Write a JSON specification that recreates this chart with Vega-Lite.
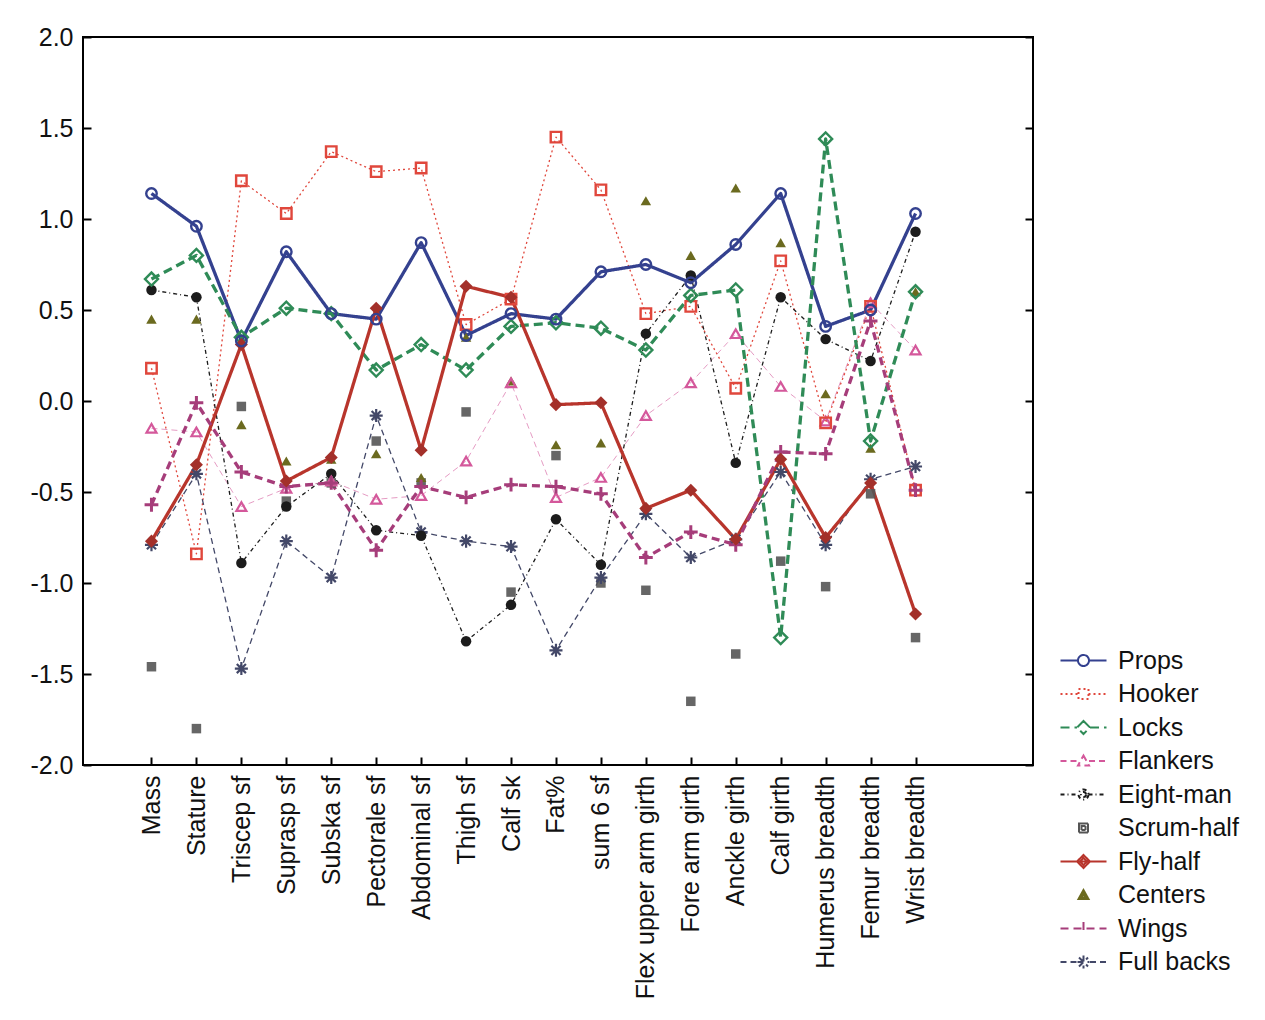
{
  "$schema": "https://vega.github.io/schema/vega-lite/v6.json",
  "width": 950,
  "height": 728,
  "autosize": {"type": "none"},
  "padding": {"left": 83, "top": 37, "right": 232, "bottom": 255},
  "background": "#ffffff",
  "config": {
    "view": {"stroke": "#000000", "strokeWidth": 2},
    "font": "Liberation Sans"
  },
  "data": {
    "values": [
      {"m": "Mass", "i": 1, "Props": 1.14, "Hooker": 0.18, "Locks": 0.67, "Flankers": -0.15, "Eight-man": 0.61, "Scrum-half": -1.46, "Fly-half": -0.77, "Centers": 0.45, "Wings": -0.57, "Full backs": -0.79},
      {"m": "Stature", "i": 2, "Props": 0.96, "Hooker": -0.84, "Locks": 0.80, "Flankers": -0.17, "Eight-man": 0.57, "Scrum-half": -1.80, "Fly-half": -0.35, "Centers": 0.45, "Wings": -0.01, "Full backs": -0.40},
      {"m": "Triscep sf", "i": 3, "Props": 0.33, "Hooker": 1.21, "Locks": 0.35, "Flankers": -0.58, "Eight-man": -0.89, "Scrum-half": -0.03, "Fly-half": 0.31, "Centers": -0.13, "Wings": -0.39, "Full backs": -1.47},
      {"m": "Suprasp sf", "i": 4, "Props": 0.82, "Hooker": 1.03, "Locks": 0.51, "Flankers": -0.48, "Eight-man": -0.58, "Scrum-half": -0.55, "Fly-half": -0.44, "Centers": -0.33, "Wings": -0.47, "Full backs": -0.77},
      {"m": "Subska sf", "i": 5, "Props": 0.48, "Hooker": 1.37, "Locks": 0.48, "Flankers": -0.44, "Eight-man": -0.40, "Scrum-half": -0.45, "Fly-half": -0.31, "Centers": -0.32, "Wings": -0.45, "Full backs": -0.97},
      {"m": "Pectorale sf", "i": 6, "Props": 0.45, "Hooker": 1.26, "Locks": 0.17, "Flankers": -0.54, "Eight-man": -0.71, "Scrum-half": -0.22, "Fly-half": 0.51, "Centers": -0.29, "Wings": -0.82, "Full backs": -0.08},
      {"m": "Abdominal sf", "i": 7, "Props": 0.87, "Hooker": 1.28, "Locks": 0.31, "Flankers": -0.52, "Eight-man": -0.74, "Scrum-half": -0.45, "Fly-half": -0.27, "Centers": -0.42, "Wings": -0.47, "Full backs": -0.72},
      {"m": "Thigh sf", "i": 8, "Props": 0.36, "Hooker": 0.42, "Locks": 0.17, "Flankers": -0.33, "Eight-man": -1.32, "Scrum-half": -0.06, "Fly-half": 0.63, "Centers": 0.35, "Wings": -0.53, "Full backs": -0.77},
      {"m": "Calf sk", "i": 9, "Props": 0.48, "Hooker": 0.56, "Locks": 0.41, "Flankers": 0.10, "Eight-man": -1.12, "Scrum-half": -1.05, "Fly-half": 0.57, "Centers": 0.11, "Wings": -0.46, "Full backs": -0.80},
      {"m": "Fat%", "i": 10, "Props": 0.45, "Hooker": 1.45, "Locks": 0.43, "Flankers": -0.53, "Eight-man": -0.65, "Scrum-half": -0.30, "Fly-half": -0.02, "Centers": -0.24, "Wings": -0.47, "Full backs": -1.37},
      {"m": "sum 6 sf", "i": 11, "Props": 0.71, "Hooker": 1.16, "Locks": 0.40, "Flankers": -0.42, "Eight-man": -0.90, "Scrum-half": -1.00, "Fly-half": -0.01, "Centers": -0.23, "Wings": -0.51, "Full backs": -0.97},
      {"m": "Flex upper arm girth", "i": 12, "Props": 0.75, "Hooker": 0.48, "Locks": 0.28, "Flankers": -0.08, "Eight-man": 0.37, "Scrum-half": -1.04, "Fly-half": -0.59, "Centers": 1.10, "Wings": -0.86, "Full backs": -0.62},
      {"m": "Fore arm girth", "i": 13, "Props": 0.65, "Hooker": 0.52, "Locks": 0.58, "Flankers": 0.10, "Eight-man": 0.69, "Scrum-half": -1.65, "Fly-half": -0.49, "Centers": 0.80, "Wings": -0.72, "Full backs": -0.86},
      {"m": "Anckle girth", "i": 14, "Props": 0.86, "Hooker": 0.07, "Locks": 0.61, "Flankers": 0.37, "Eight-man": -0.34, "Scrum-half": -1.39, "Fly-half": -0.76, "Centers": 1.17, "Wings": -0.79, "Full backs": -0.76},
      {"m": "Calf girth", "i": 15, "Props": 1.14, "Hooker": 0.77, "Locks": -1.30, "Flankers": 0.08, "Eight-man": 0.57, "Scrum-half": -0.88, "Fly-half": -0.32, "Centers": 0.87, "Wings": -0.28, "Full backs": -0.39},
      {"m": "Humerus breadth", "i": 16, "Props": 0.41, "Hooker": -0.12, "Locks": 1.44, "Flankers": -0.11, "Eight-man": 0.34, "Scrum-half": -1.02, "Fly-half": -0.75, "Centers": 0.04, "Wings": -0.29, "Full backs": -0.79},
      {"m": "Femur breadth", "i": 17, "Props": 0.50, "Hooker": 0.52, "Locks": -0.22, "Flankers": 0.54, "Eight-man": 0.22, "Scrum-half": -0.51, "Fly-half": -0.45, "Centers": -0.26, "Wings": 0.44, "Full backs": -0.43},
      {"m": "Wrist breadth", "i": 18, "Props": 1.03, "Hooker": -0.49, "Locks": 0.60, "Flankers": 0.28, "Eight-man": 0.93, "Scrum-half": -1.30, "Fly-half": -1.17, "Centers": 0.60, "Wings": -0.49, "Full backs": -0.36}
    ]
  },
  "transform": [
    {"fold": ["Props", "Hooker", "Locks", "Flankers", "Eight-man", "Scrum-half", "Fly-half", "Centers", "Wings", "Full backs"], "as": ["s", "v"]}
  ],
  "encoding": {
    "x": {
      "field": "m", "type": "nominal",
      "scale": {"domain": ["Mass", "Stature", "Triscep sf", "Suprasp sf", "Subska sf", "Pectorale sf", "Abdominal sf", "Thigh sf", "Calf sk", "Fat%", "sum 6 sf", "Flex upper arm girth", "Fore arm girth", "Anckle girth", "Calf girth", "Humerus breadth", "Femur breadth", "Wrist breadth"], "range": [46, 855]},
      "axis": {"title": null, "labelAngle": -90, "labelFontSize": 25, "labelColor": "#111111", "labelFont": "Liberation Sans", "labelLimit": 0, "tickSize": -8, "tickColor": "#000000", "tickWidth": 2, "labelPadding": 18, "domain": false, "grid": false}
    },
    "y": {"field": "v", "type": "quantitative", "scale": {"domain": [-2, 2], "nice": false}, "axis": null},
    "color": {"field": "s", "type": "nominal",
      "scale": {"domain": ["Props", "Hooker", "Locks", "Flankers", "Eight-man", "Scrum-half", "Fly-half", "Centers", "Wings", "Full backs"],
        "range": ["#34418f", "#e0473c", "#2f8b57", "#d4589b", "#1c1c1c", "#555555", "#b8352c", "#6b6a1f", "#a63d7a", "#434868"]},
      "legend": {"orient": "none", "legendX": 988, "legendY": 611, "title": null, "labelFontSize": 25, "labelFont": "Liberation Sans", "labelColor": "#111111", "symbolSize": 100, "symbolStrokeWidth": 2, "labelOffset": 22, "rowPadding": 7.5, "padding": 0, "symbolOpacity": 1, "symbolFillColor": "transparent"}},
    "strokeDash": {"field": "s", "type": "nominal",
      "scale": {"domain": ["Props", "Hooker", "Locks", "Flankers", "Eight-man", "Scrum-half", "Fly-half", "Centers", "Wings", "Full backs"],
        "range": [[1, 0], [2, 3], [9, 5], [6, 4], [4, 3, 1, 3], [1, 0], [1, 0], [1, 0], [8, 5], [6, 4]]}}
  },
  "layer": [
    {
      "mark": {"type": "point", "filled": false, "opacity": 0},
      "encoding": {
        "y": {"field": "v", "type": "quantitative", "scale": {"domain": [-2, 2], "nice": false},
          "axis": {"orient": "right", "title": null, "labels": false, "values": [-2, -1.5, -1, -0.5, 0, 0.5, 1, 1.5, 2], "tickSize": -8, "tickWidth": 2, "tickColor": "#000000", "domain": false, "grid": false}},
        "shape": {"field": "s", "type": "nominal",
          "scale": {"domain": ["Props", "Hooker", "Locks", "Flankers", "Eight-man", "Scrum-half", "Fly-half", "Centers", "Wings", "Full backs"],
            "range": [
              "M-4.6,0L-1.1,0M1.1,0L4.6,0M1.1,0A1.1,1.1,0,1,1,-1.1,0A1.1,1.1,0,1,1,1.1,0",
              "M-4.6,0L-1,0M1,0L4.6,0M-1,-1L1,-1L1,1L-1,1Z",
              "M-4.6,0L-1.3,0M1.3,0L4.6,0M0,-1.3L1.3,0L0,1.3L-1.3,0Z",
              "M-4.6,0L-1.1,0M1.1,0L4.6,0M0,-1.1L1.1,0.9L-1.1,0.9Z",
              "M-4.6,0L-1,0M1,0L4.6,0M1,0A1,1,0,1,1,-1,0A1,1,0,1,1,1,0M0.5,0A0.5,0.5,0,1,1,-0.5,0A0.5,0.5,0,1,1,0.5,0",
              "M-0.9,-0.9L0.9,-0.9L0.9,0.9L-0.9,0.9ZM-0.4,-0.4L0.4,-0.4L0.4,0.4L-0.4,0.4Z",
              "M-4.6,0L4.6,0M0,-1.3L1.3,0L0,1.3L-1.3,0ZM0,-0.7L0.7,0L0,0.7L-0.7,0Z",
              "M0,-1L1,0.8L-1,0.8ZM0,-0.3L0.4,0.5L-0.4,0.5Z",
              "M-4.6,0L4.6,0M0,-1.3L0,1.3",
              "M-4.6,0L-1.3,0M1.3,0L4.6,0M-1.2,0L1.2,0M0,-1.3L0,1.3M-0.9,-0.9L0.9,0.9M-0.9,0.9L0.9,-0.9"
            ]}}
      }
    },
    {
      "transform": [{"filter": "datum.s === 'Flankers'"}],
      "mark": {"type": "line", "strokeJoin": "round", "strokeWidth": 1, "opacity": 0.6},
      "encoding": {"order": {"field": "i", "type": "quantitative"}}
    },
    {
      "transform": [{"filter": "datum.s === 'Hooker' || datum.s === 'Eight-man' || datum.s === 'Full backs'"}],
      "mark": {"type": "line", "strokeJoin": "round", "strokeWidth": 1.3},
      "encoding": {"order": {"field": "i", "type": "quantitative"}}
    },
    {
      "transform": [{"filter": "datum.s === 'Props' || datum.s === 'Locks' || datum.s === 'Fly-half' || datum.s === 'Wings'"}],
      "mark": {"type": "line", "strokeJoin": "round", "strokeWidth": 3.3},
      "encoding": {
        "order": {"field": "i", "type": "quantitative"},
        "y": {"field": "v", "type": "quantitative", "scale": {"domain": [-2, 2], "nice": false},
          "axis": {"title": null, "values": [-2, -1.5, -1, -0.5, 0, 0.5, 1, 1.5, 2], "labelExpr": "replace(format(datum.value, '.1f'), '\u2212', '-')", "labelFontSize": 25, "labelColor": "#111111", "labelFont": "Liberation Sans", "tickSize": -8, "tickWidth": 2, "tickColor": "#000000", "labelPadding": 18, "domain": false, "grid": false}}
      }
    },
    {"transform": [{"filter": "datum.s === 'Scrum-half'"}], "mark": {"type": "point", "shape": "square", "filled": true, "color": "#555555", "size": 90, "opacity": 0.9}, "encoding": {"color": null, "strokeDash": null}},
    {"transform": [{"filter": "datum.s === 'Centers'"}], "mark": {"type": "point", "shape": "triangle-up", "filled": true, "color": "#6b6a1f", "size": 110, "opacity": 1}, "encoding": {"color": null, "strokeDash": null}},
    {"transform": [{"filter": "datum.s === 'Full backs'"}], "mark": {"type": "point", "shape": "M-1,0L1,0M0,-1L0,1M-0.7,-0.7L0.7,0.7M-0.7,0.7L0.7,-0.7", "filled": false, "color": "#434868", "size": 170, "strokeWidth": 2.2, "opacity": 1}, "encoding": {"color": null, "strokeDash": null}},
    {"transform": [{"filter": "datum.s === 'Eight-man'"}], "mark": {"type": "point", "shape": "circle", "filled": true, "color": "#1c1c1c", "size": 110, "opacity": 1}, "encoding": {"color": null, "strokeDash": null}},
    {"transform": [{"filter": "datum.s === 'Flankers'"}], "mark": {"type": "point", "shape": "triangle-up", "filled": false, "color": "#d4589b", "size": 100, "strokeWidth": 2.2, "opacity": 1}, "encoding": {"color": null, "strokeDash": null}},
    {"transform": [{"filter": "datum.s === 'Hooker'"}], "mark": {"type": "point", "shape": "square", "filled": false, "color": "#e0473c", "size": 110, "strokeWidth": 2.4, "opacity": 1}, "encoding": {"color": null, "strokeDash": null}},
    {"transform": [{"filter": "datum.s === 'Wings'"}], "mark": {"type": "point", "shape": "M-1,0L1,0M0,-1L0,1", "filled": false, "color": "#a63d7a", "size": 190, "strokeWidth": 3, "opacity": 1}, "encoding": {"color": null, "strokeDash": null}},
    {"transform": [{"filter": "datum.s === 'Locks'"}], "mark": {"type": "point", "shape": "diamond", "filled": false, "color": "#2f8b57", "size": 170, "strokeWidth": 2.4, "opacity": 1}, "encoding": {"color": null, "strokeDash": null}},
    {"transform": [{"filter": "datum.s === 'Fly-half'"}], "mark": {"type": "point", "shape": "diamond", "filled": true, "color": "#a3302a", "size": 170, "opacity": 1}, "encoding": {"color": null, "strokeDash": null}},
    {"transform": [{"filter": "datum.s === 'Props'"}], "mark": {"type": "point", "shape": "circle", "filled": false, "color": "#34418f", "size": 110, "strokeWidth": 2.4, "opacity": 1}, "encoding": {"color": null, "strokeDash": null}}
  ],
  "resolve": {"axis": {"y": "independent"}}
}
